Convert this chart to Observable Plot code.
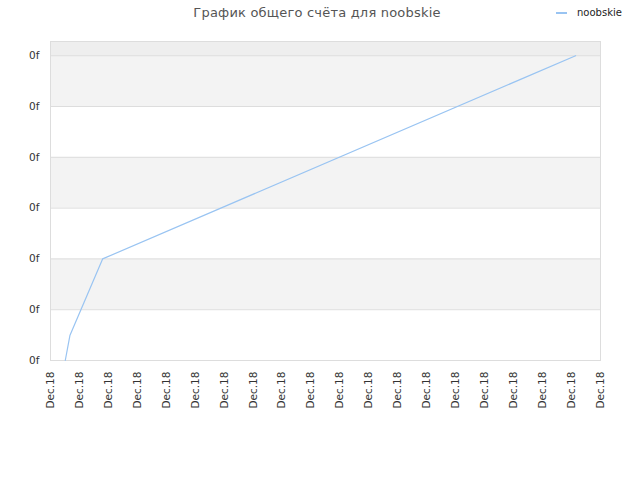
<!DOCTYPE html>
<html>
<head>
<meta charset="utf-8">
<script src="https://cdn.jsdelivr.net/npm/d3@7"></script>
<script src="https://cdn.jsdelivr.net/npm/@observablehq/plot@0.6"></script>
<style>
  body { margin: 0; background: #fff; font-family: "DejaVu Sans", sans-serif; }
  #wrap { position: relative; width: 640px; height: 480px; }
  #title { position: absolute; top: 5px; left: 0; width: 634px; text-align: center; font-size: 13px; letter-spacing: 0.2px; color: #555; }
  #legend { position: absolute; top: 7px; left: 556px; font-size: 10px; color: #222; display: flex; align-items: center; }
  #legend .sw { width: 11px; height: 2px; background: #99c4f2; margin-right: 10px; }
  svg { position: absolute; top: 0; left: 0; }
</style>
</head>
<body>
<div id="wrap">
  <div id="title">График общего счёта для noobskie</div>
  <div id="legend"><span class="sw"></span><span>noobskie</span></div>
</div>
<script>
const seriesName = "noobskie";
// x in tick-index units, y in gridline units (all labeled "0f")
const xValues = [0.51, 0.67, 1.80, 18.14];
const yValues = [0, 0.49, 2.0, 6.0];
const xTicks = d3.range(0, 20);
const xLabels = xTicks.map(() => "Dec.18");
const yTicks = [0, 1, 2, 3, 4, 5, 6];
const yLabels = yTicks.map(() => "0f");
const yMax = 6.28;

const data = xValues.map((x, i) => ({x, y: yValues[i]}));
const bands = yTicks.filter(t => t % 2 === 1).map(t => ({y1: t, y2: t + 1}));
const topBand = [{y1: yTicks[yTicks.length - 1], y2: yMax}];

const chart = Plot.plot({
  width: 640,
  height: 480,
  marginTop: 41,
  marginLeft: 50,
  marginRight: 40,
  marginBottom: 120,
  style: {fontFamily: "DejaVu Sans, sans-serif", fontSize: "10.5px", color: "#333", background: "transparent"},
  x: {domain: [0, 19]},
  y: {domain: [0, yMax]},
  marks: [
    Plot.rect(bands, {x1: 0, x2: 19, y1: "y1", y2: "y2", fill: "#f3f3f3"}),
    Plot.rect(topBand, {x1: 0, x2: 19, y1: "y1", y2: "y2", fill: "#eeeeee"}),
    Plot.ruleY(yTicks, {stroke: "#dddddd", strokeWidth: 1}),
    Plot.frame({stroke: "#dddddd"}),
    Plot.axisY({ticks: yTicks, tickFormat: (d, i) => yLabels[i], tickSize: 0, tickPadding: 11, label: null}),
    Plot.axisX({ticks: xTicks, tickFormat: (d, i) => xLabels[i], tickSize: 0, tickPadding: 11, tickRotate: -90, label: null}),
    Plot.line(data, {x: "x", y: "y", stroke: "#99c4f2", strokeWidth: 1.2})
  ]
});
document.getElementById("wrap").prepend(chart);
</script>
</body>
</html>
